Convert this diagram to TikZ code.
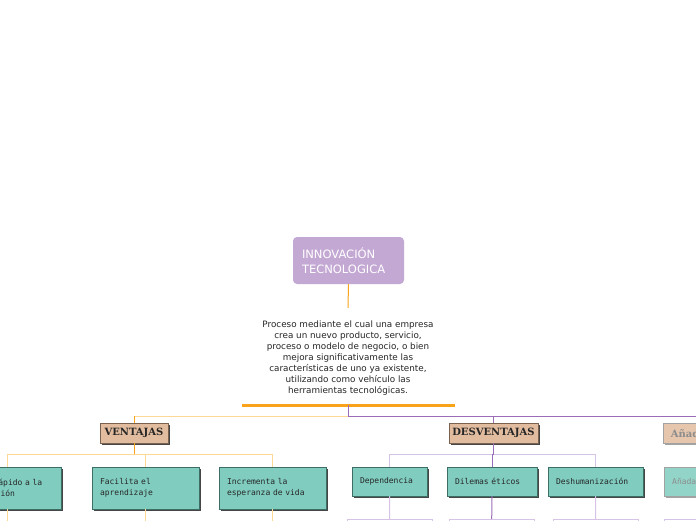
\documentclass[tikz,border=0pt]{standalone}
\usepackage{fontspec}
\usepackage{tikz}
\usetikzlibrary{positioning, shadows, calc}
\newfontfamily\rootfont{DejaVu Sans}
\newfontfamily\topicfont{DejaVu Serif}
\newfontfamily\leaffont{DejaVu Sans Mono}
\definecolor{rootLilac}{RGB}{196,168,212}
\definecolor{mOrange}{RGB}{249,163,26}
\definecolor{mOrangeLight}{RGB}{253,216,150}
\definecolor{mPurple}{RGB}{155,109,184}
\definecolor{mPurpleLight}{RGB}{214,195,230}
\definecolor{topicTan}{RGB}{226,188,158}
\definecolor{topicEdge}{RGB}{122,98,80}
\definecolor{leafTeal}{RGB}{128,205,192}
\definecolor{leafEdge}{RGB}{60,110,102}
\definecolor{shadowGrey}{RGB}{70,70,70}

\begin{document}
\begin{tikzpicture}[x=1pt, y=-1pt,
  rootbox/.style={fill=rootLilac, rounded corners=4pt, text=white,
                  font=\rootfont\fontsize{11.5}{15}\selectfont, align=left,
                  text width=93pt, inner xsep=9pt, minimum height=47pt},
  desc/.style={font=\rootfont\fontsize{8.8}{10.9}\selectfont, align=center,
               inner xsep=0pt, inner ysep=13pt, text=black!85},
  topicbox/.style={draw=topicEdge, fill=topicTan, minimum height=20pt,
                   inner xsep=3pt, inner ysep=0pt, text=black!85,
                   font=\topicfont\bfseries\fontsize{10}{12}\selectfont,
                   drop shadow={shadow xshift=1.5pt, shadow yshift=-1.5pt,
                                fill=shadowGrey, opacity=1}},
  leafbox/.style={draw=leafEdge, fill=leafTeal, align=left, inner xsep=8pt,
                  inner ysep=0pt, text=black!85,
                  font=\leaffont\fontsize{8}{11}\selectfont,
                  drop shadow={shadow xshift=1.5pt, shadow yshift=-1.5pt,
                               fill=shadowGrey, opacity=1}},
  faded/.style={draw=shadowGrey!50!white, fill=#1!85!white, text=black!45,
                drop shadow={shadow xshift=1.5pt, shadow yshift=-1.5pt,
                             fill=shadowGrey!50!white, opacity=1}},
  ghostbox/.style={draw=mPurpleLight, minimum height=20pt, anchor=north west},
  orangelink/.style={draw=mOrange, line width=1pt},
  ventlink/.style={draw=mOrangeLight, line width=1pt},
  deslink/.style={draw=mPurple, line width=1pt},
  deslight/.style={draw=mPurpleLight, line width=1pt},
]
  \clip (0,0) rectangle (696,520);
  \fill[white] (0,0) rectangle (696,520);

  % central topic
  \node[rootbox] (root) at (348.5,260.5) {INNOVACIÓN\\TECNOLOGICA};
  \node[desc] (def) at (348,358) {Proceso mediante el cual una empresa\\
    crea un nuevo producto, servicio,\\
    proceso o modelo de negocio, o bien\\
    mejora significativamente las\\
    características de uno ya existente,\\
    utilizando como vehículo las\\
    herramientas tecnológicas.};
  \coordinate (bar) at (348,405);
  \coordinate (hub) at (348,416);
  \draw[orangelink] (root.south) -- (def.north);
  \draw[draw=mOrange, line width=3pt] ($(bar)+(-106,0)$) -- ($(bar)+(107,0)$);
  \draw[deslink] (bar) -- (hub);

  % main branches
  \node[topicbox, minimum width=68pt] (vent) at (134,433) {VENTAJAS};
  \node[topicbox, minimum width=89pt] (desv) at (493.5,433) {DESVENTAJAS};
  \node[topicbox, faded=topicTan, minimum width=100pt, anchor=north west]
    (addtopic) at (663,423) {Añada un tema};
  \draw[ventlink] (hub) -- (hub -| vent.north);
  \draw[orangelink] (hub -| vent.north) -- (vent.north);
  \draw[deslink] (hub) -| (desv.north);
  \draw[deslink] (hub) -| (addtopic.north);

  % ventajas
  \node[leafbox, text width=91pt, minimum height=42pt] (acceso) at (7.5,488)
    {Acceso rápido a la\\información};
  \node[leafbox, text width=91pt, minimum height=42pt] (facilita) at (145.5,488)
    {Facilita el\\aprendizaje};
  \node[leafbox, text width=91pt, minimum height=42pt] (incrementa) at (272.5,488)
    {Incrementa la\\esperanza de vida};
  \draw[orangelink] (vent.south) -- ($(vent.south)+(0,11)$);
  \foreach \leaf in {acceso, facilita, incrementa} {
    \draw[ventlink] ($(vent.south)+(0,11)$) -| (\leaf.north);
    \draw[ventlink] (\leaf.south) -- ++(0,20);
  }

  % desventajas
  \node[leafbox, text width=59pt, minimum height=29pt] (depend) at (389.5,481.5)
    {Dependencia};
  \node[leafbox, text width=74pt, minimum height=29pt] (dilema) at (492,481.5)
    {Dilemas éticos};
  \node[leafbox, text width=79pt, minimum height=29pt] (deshum) at (595.5,481.5)
    {Deshumanización};
  \node[leafbox, faded=leafTeal, text width=84pt, minimum height=29pt,
    anchor=north west] (addleaf) at (664,467) {Añada un subtema};
  \node[ghostbox, minimum width=85pt] (gdepend) at (347,519) {};
  \node[ghostbox, minimum width=85pt] (gdilema) at (449,519) {};
  \node[ghostbox, minimum width=85pt] (gdeshum) at (553,519) {};
  \node[ghostbox, minimum width=85pt] (gadd) at (664,519) {};
  \draw[deslink] (desv.south) -- ($(desv.south)+(0,11)$);
  \foreach \leaf in {depend, deshum}
    \draw[deslight] ($(desv.south)+(0,11)$) -| (\leaf.north);
  \draw[deslink] ($(desv.south)+(0,11)$) -| (dilema.north);
  \draw[deslight] (depend.south) -- (gdepend.north);
  \draw[deslink] (dilema.south) -- (gdilema.north);
  \draw[deslight] (deshum.south) -- (gdeshum.north);
\end{tikzpicture}
\end{document}
